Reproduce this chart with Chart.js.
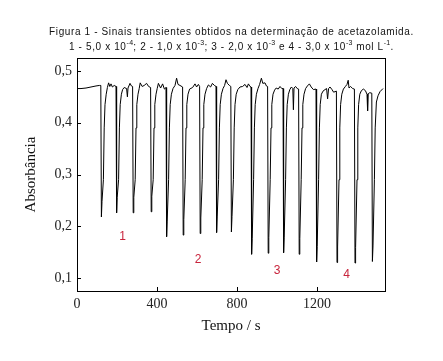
<!DOCTYPE html>
<html><head><meta charset="utf-8">
<script src="https://cdn.jsdelivr.net/npm/chart.js@4.4.1/dist/chart.umd.min.js"></script>
<style>html,body{margin:0;padding:0;background:#fff;}#wrap{width:443px;height:361px;position:relative;}</style>
</head><body><div id="wrap"><canvas id="c" width="443" height="361"></canvas></div>
<script>
// Time (s) and absorbance
const timeS = [
  0, 20, 45, 70, 95, 112, 119,
  122, 125, 132, 136, 140, 146, 152, 158, 164, 170, 177, 186, 195,
  198, 201, 208, 212, 216, 222, 228, 236, 248, 252, 255, 265, 272, 278,
  281, 284, 291, 295, 299, 305, 311, 316, 326, 336, 348, 358, 368,
  371, 374, 381, 385, 389, 395, 401, 407, 418, 428, 437, 445,
  448, 451, 458, 462, 466, 472, 480, 490, 498, 505, 515, 528,
  531, 534, 541, 545, 549, 555, 563, 578, 590, 598, 607, 613,
  616, 619, 626, 630, 634, 640, 648, 657, 668, 677, 687, 695,
  698, 701, 708, 712, 716, 722, 730, 738, 745, 752, 762, 769,
  772, 775, 782, 786, 790, 796, 804, 815, 828, 840, 850, 857, 865, 870,
  873, 876, 883, 887, 891, 897, 905, 913, 922, 929, 940, 947, 953,
  956, 959, 966, 970, 974, 980, 988, 996, 1006, 1015, 1024, 1030,
  1033, 1036, 1043, 1047, 1051, 1057, 1064, 1072, 1079, 1082, 1085, 1093, 1101, 1108,
  1111, 1114, 1121, 1125, 1129, 1135, 1143, 1152, 1162, 1171, 1182, 1195,
  1198, 1201, 1208, 1212, 1216, 1222, 1230, 1240, 1248, 1253, 1258, 1265, 1275, 1283, 1297,
  1300, 1303, 1310, 1314, 1318, 1324, 1332, 1342, 1350, 1356, 1360, 1368, 1378, 1387,
  1390, 1393, 1400, 1404, 1408, 1414, 1422, 1432, 1442, 1450, 1453, 1456, 1464, 1474,
  1477, 1480, 1487, 1491, 1497, 1505, 1515, 1530
];
const absorbance = [
  0.466, 0.466, 0.467, 0.469, 0.471, 0.472, 0.472,
  0.218, 0.248, 0.29, 0.39, 0.435, 0.455, 0.468, 0.477, 0.470, 0.475, 0.469, 0.472, 0.470,
  0.226, 0.256, 0.29, 0.39, 0.435, 0.455, 0.464, 0.468, 0.466, 0.450, 0.467, 0.476, 0.471, 0.470,
  0.226, 0.256, 0.29, 0.39, 0.435, 0.455, 0.466, 0.477, 0.470, 0.472, 0.476, 0.470, 0.468,
  0.228, 0.258, 0.29, 0.39, 0.435, 0.455, 0.466, 0.476, 0.467, 0.475, 0.465, 0.468,
  0.180, 0.210, 0.29, 0.39, 0.435, 0.455, 0.466, 0.472, 0.486, 0.474, 0.472, 0.469,
  0.183, 0.213, 0.29, 0.39, 0.435, 0.455, 0.465, 0.468, 0.475, 0.469, 0.474, 0.470,
  0.186, 0.216, 0.29, 0.39, 0.435, 0.455, 0.466, 0.473, 0.469, 0.476, 0.472, 0.470,
  0.188, 0.218, 0.29, 0.39, 0.435, 0.455, 0.466, 0.472, 0.483, 0.476, 0.472, 0.470,
  0.189, 0.219, 0.29, 0.39, 0.435, 0.455, 0.464, 0.469, 0.470, 0.474, 0.468, 0.475, 0.470, 0.469,
  0.146, 0.176, 0.29, 0.39, 0.435, 0.455, 0.466, 0.474, 0.486, 0.476, 0.477, 0.471, 0.470,
  0.148, 0.178, 0.29, 0.39, 0.435, 0.455, 0.463, 0.467, 0.465, 0.470, 0.466, 0.466,
  0.149, 0.179, 0.29, 0.39, 0.435, 0.455, 0.464, 0.469, 0.466, 0.425, 0.467, 0.470, 0.466, 0.465,
  0.146, 0.176, 0.29, 0.39, 0.435, 0.455, 0.466, 0.471, 0.475, 0.469, 0.464, 0.465,
  0.131, 0.161, 0.29, 0.39, 0.435, 0.455, 0.461, 0.464, 0.466, 0.446, 0.466, 0.469, 0.464, 0.459, 0.461,
  0.130, 0.160, 0.29, 0.39, 0.435, 0.455, 0.465, 0.470, 0.474, 0.482, 0.467, 0.470, 0.466, 0.465,
  0.129, 0.159, 0.29, 0.39, 0.435, 0.455, 0.462, 0.465, 0.462, 0.455, 0.423, 0.456, 0.458, 0.457,
  0.132, 0.162, 0.29, 0.39, 0.44, 0.452, 0.460, 0.466
];
const xTicks = [0, 400, 800, 1200];
const yTicks = [0.1, 0.2, 0.3, 0.4, 0.5];
const peakLabels = ['1', '2', '3', '4'];
const peakLabelT = [228, 606, 1001, 1348];
const peakLabelA = [0.179, 0.136, 0.115, 0.106];
// ^{...} marks a superscript
const titleLines = [
  'Figura 1 - Sinais transientes obtidos na determinação de acetazolamida.',
  '1 - 5,0 x 10^{-4}; 2 - 1,0 x 10^{-3}; 3 - 2,0 x 10^{-3} e 4 - 3,0 x 10^{-3} mol L^{-1}.'
];

const SERIF = "'Liberation Serif', 'Times New Roman', serif";
const SANS = "'Liberation Sans', Arial, sans-serif";

function splitRich(line) {
  const segs = [];
  const re = /\^\{([^}]*)\}/g;
  let last = 0, m;
  while ((m = re.exec(line)) !== null) {
    if (m.index > last) segs.push({t: line.slice(last, m.index), sup: false});
    segs.push({t: m[1], sup: true});
    last = re.lastIndex;
  }
  if (last < line.length) segs.push({t: line.slice(last), sup: false});
  return segs;
}

const bgPlugin = {
  id: 'bg',
  beforeDraw(chart) {
    const ctx = chart.ctx;
    ctx.save(); ctx.fillStyle = '#fff';
    ctx.fillRect(0, 0, chart.width, chart.height); ctx.restore();
  }
};
const titlePlugin = {
  id: 'richTitle',
  afterDraw(chart) {
    const ctx = chart.ctx;
    const cx = 231.5, ys = [32, 47];
    ctx.save();
    ctx.fillStyle = '#111';
    ctx.textBaseline = 'middle';
    ctx.textAlign = 'left';
    titleLines.forEach((line, li) => {
      const segs = splitRich(line);
      let total = 0;
      segs.forEach(s => {
        ctx.font = (s.sup ? '7px ' : '10px ') + SANS;
        ctx.letterSpacing = s.sup ? '0.3px' : '0.62px';
        s.w = ctx.measureText(s.t).width;
        total += s.w;
      });
      let x = cx - total / 2;
      segs.forEach(s => {
        ctx.font = (s.sup ? '7px ' : '10px ') + SANS;
        ctx.letterSpacing = s.sup ? '0.3px' : '0.62px';
        ctx.fillText(s.t, x, ys[li] - (s.sup ? 4 : 0));
        x += s.w;
      });
    });
    ctx.restore();
  }
};
const framePlugin = {
  id: 'frame',
  afterDraw(chart) {
    const {ctx, chartArea: a} = chart;
    const xs = chart.scales.x, ys = chart.scales.y;
    ctx.save();
    ctx.strokeStyle = '#000'; ctx.lineWidth = 1;
    ctx.strokeRect(Math.round(a.left) + 0.5, Math.round(a.top) + 0.5,
      Math.round(a.right - a.left), Math.round(a.bottom - a.top));
    ctx.beginPath();
    xs.ticks.forEach(t => {
      const p = Math.round(xs.getPixelForValue(t.value)) + 0.5;
      ctx.moveTo(p, a.bottom); ctx.lineTo(p, a.bottom - 4);
    });
    ys.ticks.forEach(t => {
      const p = Math.round(ys.getPixelForValue(t.value)) + 0.5;
      ctx.moveTo(a.left, p); ctx.lineTo(a.left + 4, p);
    });
    ctx.stroke();
    ctx.fillStyle = '#c8243c';
    ctx.font = '12px ' + SANS;
    ctx.textAlign = 'center'; ctx.textBaseline = 'middle';
    peakLabels.forEach((s, i) => {
      ctx.fillText(s, xs.getPixelForValue(peakLabelT[i]), ys.getPixelForValue(peakLabelA[i]));
    });
    ctx.restore();
  }
};

new Chart(document.getElementById('c'), {
  type: 'line',
  data: {
    datasets: [{
      data: timeS.map((t, i) => ({x: t, y: absorbance[i]})),
      borderColor: '#000', borderWidth: 1, pointRadius: 0, tension: 0, fill: false
    }]
  },
  options: {
    responsive: false, animation: false,
    layout: {padding: {left: 0, right: 58, top: 58, bottom: 0}},
    plugins: {
      legend: {display: false}, tooltip: {enabled: false}, title: {display: false}
    },
    scales: {
      x: {
        type: 'linear', min: 0, max: 1540,
        afterBuildTicks: s => { s.ticks = xTicks.map(v => ({value: v})); },
        afterFit: s => { s.height = 70; },
        grid: {display: false, drawTicks: false}, border: {display: false},
        ticks: {font: {family: SERIF, size: 14}, color: '#222', padding: 5, maxRotation: 0,
          callback: v => String(v)},
        title: {display: true, text: 'Tempo / s', color: '#111',
          font: {family: SERIF, size: 15}, padding: {top: 0, bottom: 26}}
      },
      y: {
        type: 'linear', min: 0.075, max: 0.525,
        afterBuildTicks: s => { s.ticks = yTicks.map(v => ({value: v})); },
        afterFit: s => { s.width = 77; },
        grid: {display: false, drawTicks: false}, border: {display: false},
        ticks: {font: {family: SERIF, size: 14}, color: '#222', padding: 5,
          callback: v => v.toFixed(1).replace('.', ',')},
        title: {display: true, text: 'Absorbância', color: '#111',
          font: {family: SERIF, size: 15}, padding: {top: 22, bottom: 0}}
      }
    }
  },
  plugins: [bgPlugin, framePlugin, titlePlugin]
});
</script></body></html>
